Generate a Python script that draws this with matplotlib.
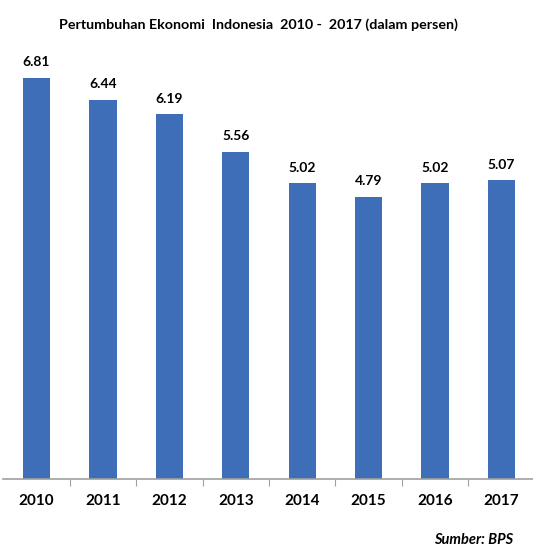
import matplotlib
matplotlib.use("Agg")
import matplotlib.pyplot as plt

years = ["2010", "2011", "2012", "2013", "2014", "2015", "2016", "2017"]
growth = [6.81, 6.44, 6.19, 5.56, 5.02, 4.79, 5.02, 5.07]

plt.rcParams['font.family'] = ['Lato', 'DejaVu Sans']

fig = plt.figure(figsize=(5.33, 5.48), dpi=100)
ax = fig.add_axes([3.3 / 533, 69 / 548, 531.4 / 533, 441.7 / 548])

x = range(len(years))
ax.bar(x, growth, width=0.41, color="#3F6EB8")
for i, v in zip(x, growth):
    ax.annotate(f"{v:.2f}", (i, v), xytext=(0, 7), textcoords="offset points",
                ha="center", va="bottom", fontsize=10, fontweight="bold")

ax.set_xlim(-0.5, 7.5)
ax.set_ylim(0, 7.5)
for s in ["top", "right", "left"]:
    ax.spines[s].set_visible(False)
ax.spines["bottom"].set_color("#a0a0a0")
ax.spines["bottom"].set_linewidth(1.2)
ax.set_yticks([])
ax.set_xticks([i + 0.5 for i in range(len(years) - 1)])
ax.set_xticklabels([])
ax.tick_params(axis="x", length=5, color="#a0a0a0", direction="out")
for i, y in zip(x, years):
    ax.annotate(y, (i, 0), xytext=(0, -11), textcoords="offset points",
                ha="center", va="top", fontsize=11, fontweight="bold")

fig.text(0.485, 0.955, "Pertumbuhan Ekonomi  Indonesia  2010 -  2017 (dalam persen)",
         ha="center", va="center", fontsize=10.3, fontweight="bold")
fig.text(0.963, 0.0146, "Sumber: BPS", ha="right", va="center",
         fontsize=10.5, fontweight="bold", style="italic")

fig.savefig("out.png", dpi=100)
